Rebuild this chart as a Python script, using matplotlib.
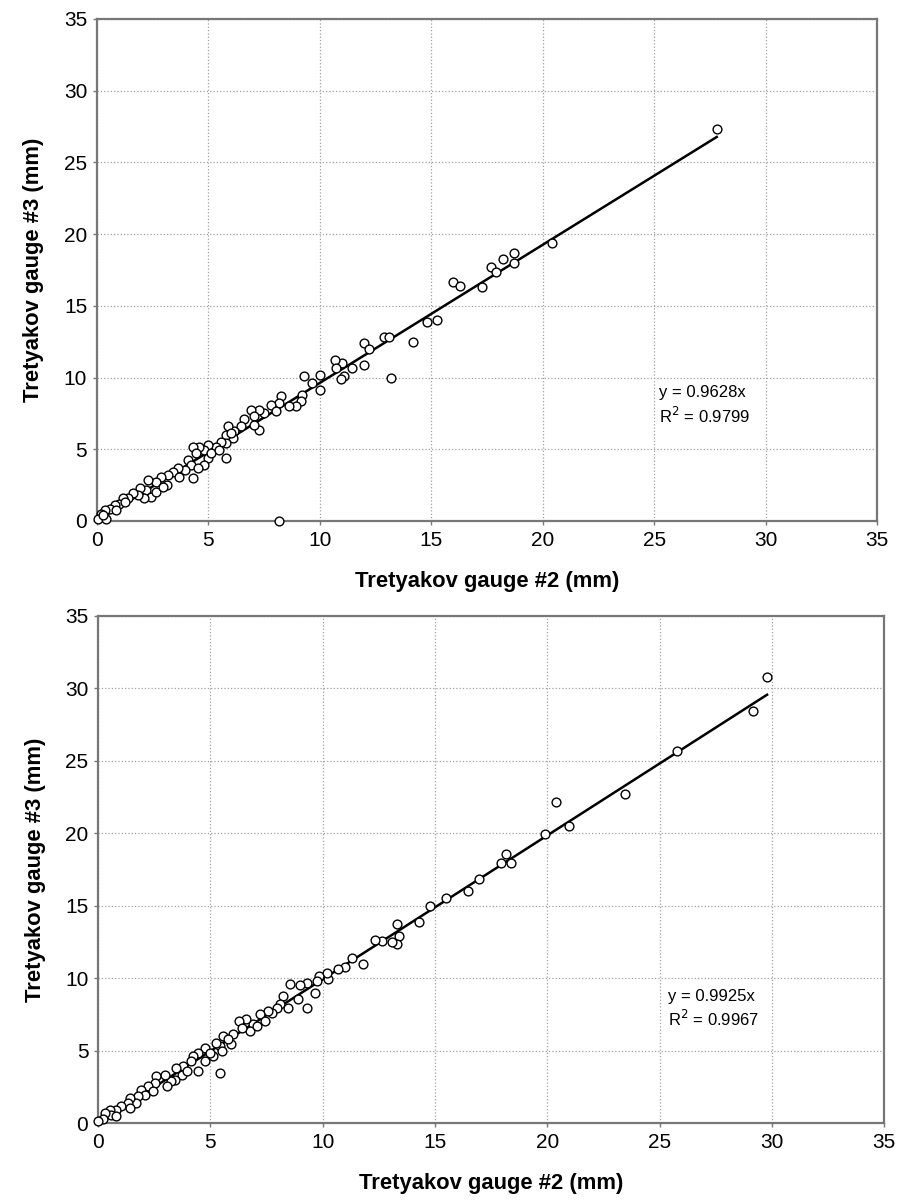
import matplotlib
matplotlib.use("Agg")
import matplotlib.pyplot as plt
import numpy as np

plt.rcParams["font.family"] = ["Liberation Sans", "DejaVu Sans"]

# ---- panel 1: gauge #2 vs gauge #3 (top) ----
top_x = [15.97, 16.28, 14.79, 15.27, 14.18, 12.88, 13.10, 11.97, 12.21, 13.18,
         11.99, 11.46, 11.01, 10.69, 10.72, 11.09, 10.94, 10.00, 10.00, 9.67,
         9.30, 9.19, 9.15, 8.93, 8.63, 8.25, 8.18, 7.81, 8.03, 7.51,
         7.28, 6.91, 7.06, 6.61, 7.28, 7.06, 6.46, 6.16, 5.87, 6.09,
         5.79, 5.79, 5.79, 5.57, 5.34, 4.97, 4.82, 4.97, 4.60, 4.30,
         4.45, 4.07, 4.22, 4.82, 4.52, 4.30, 3.93, 3.63, 3.40, 3.18,
         3.13, 2.88, 2.66, 2.28, 2.21, 2.43, 2.13, 1.91, 1.84, 1.61,
         1.39, 1.16, 1.01, 0.79, 0.57, 0.34, 0.19, 0.04, 0.42, 8.18,
         2.66, 2.96, 3.70, 5.12, 5.49, 6.01, 1.24, 0.87, 0.27,
         17.27, 17.67, 17.90, 18.20, 18.69, 18.69, 20.41, 27.81]
top_y = [16.64, 16.36, 13.90, 14.02, 12.50, 12.85, 12.85, 12.43, 11.96, 10.00,
         10.91, 10.68, 11.03, 11.21, 10.68, 10.09, 9.93, 10.21, 9.11, 9.63,
         10.09, 8.81, 8.34, 8.04, 7.99, 8.74, 8.22, 8.11, 7.64, 7.52,
         7.76, 7.76, 7.29, 7.10, 6.36, 6.71, 6.59, 6.24, 6.59, 5.77,
         6.00, 4.37, 5.42, 5.54, 5.19, 5.30, 4.95, 4.37, 5.19, 5.19,
         4.72, 4.25, 3.90, 3.90, 3.67, 2.97, 3.55, 3.67, 3.43, 3.20,
         2.50, 3.08, 2.73, 2.85, 2.15, 1.68, 1.57, 2.27, 1.80, 1.92,
         1.57, 1.57, 1.21, 1.10, 0.86, 0.79, 0.51, 0.16, 0.16, 0.00,
         2.03, 2.38, 3.08, 4.72, 4.95, 6.12, 1.33, 0.75, 0.40,
         16.34, 17.70, 17.34, 18.24, 18.65, 18.02, 19.38, 27.36]
top_slope = 0.9628
top_r2 = 0.9799

# ---- panel 2 (bottom) ----
bot_x = [16.49, 15.50, 14.78, 14.31, 13.30, 13.42, 13.30, 13.08, 12.63, 12.33,
         11.81, 11.29, 11.00, 10.70, 10.25, 10.18, 9.85, 9.66, 9.73, 9.29,
         9.29, 8.99, 8.92, 8.54, 8.25, 8.10, 7.95, 7.73, 7.58, 7.21,
         7.43, 6.91, 6.76, 6.61, 6.29, 6.39, 6.02, 5.94, 5.57, 5.42,
         5.27, 5.13, 5.50, 5.42, 4.75, 4.46, 4.23, 4.16, 4.75, 4.46,
         3.79, 3.49, 3.72, 3.42, 3.27, 2.97, 2.60, 2.53, 2.23, 2.45,
         1.93, 2.08, 1.78, 1.71, 1.41, 1.34, 1.04, 1.41, 0.82, 0.52,
         0.59, 0.30, 0.22, 0.00, 0.82, 3.05, 3.94, 4.98, 5.79, 7.06, 8.47,
         16.98, 17.95, 18.17, 18.37, 19.88, 20.37, 20.97, 23.48, 25.78, 29.17, 29.79]
bot_y = [16.05, 15.54, 15.01, 13.86, 13.74, 12.89, 12.36, 12.52, 12.59, 12.63,
         10.97, 11.39, 10.79, 10.62, 9.93, 10.39, 10.16, 9.01, 9.82, 9.70,
         7.97, 9.52, 8.55, 9.58, 8.78, 8.20, 7.97, 7.62, 7.74, 7.51,
         7.04, 6.81, 6.35, 7.16, 7.04, 6.58, 6.12, 5.43, 6.00, 5.31,
         5.54, 4.62, 4.97, 3.46, 5.20, 4.85, 4.62, 4.27, 4.27, 3.58,
         3.93, 3.81, 3.35, 3.00, 2.89, 3.35, 3.23, 2.77, 2.54, 2.19,
         2.31, 1.96, 1.85, 1.39, 1.73, 1.39, 1.15, 1.04, 0.92, 0.92,
         0.58, 0.69, 0.28, 0.12, 0.46, 2.54, 3.58, 4.85, 5.77, 6.70, 7.97,
         16.84, 17.95, 18.56, 17.95, 19.97, 22.15, 20.53, 22.74, 25.66, 28.46, 30.77]
bot_slope = 0.9925
bot_r2 = 0.9967

ticks = [0, 5, 10, 15, 20, 25, 30, 35]
xlab = "Tretyakov gauge #2 (mm)"
ylab = "Tretyakov gauge #3 (mm)"


def panel(ax, xs, ys, slope, r2, tx, ty):
    ax.set_xlim(0, 35); ax.set_ylim(0, 35)
    ax.set_xticks(ticks); ax.set_yticks(ticks)
    ax.grid(True, color="#a0a0a0", linestyle=":", linewidth=0.9)
    ax.set_axisbelow(True)
    for s in ax.spines.values():
        s.set_color("#777777"); s.set_linewidth(1.6)
    ax.tick_params(length=3, width=1, color="#777777", labelsize=15, pad=4)
    xs = np.array(xs)
    xl = np.array([0, xs.max()])
    ax.plot(xl, slope * xl, color="black", lw=1.8, zorder=3)
    ax.scatter(xs, ys, s=40, facecolors="white", edgecolors="black",
               linewidths=1.0, zorder=4, clip_on=False)
    ax.text(tx, ty, "y = %.4fx\nR$^2$ = %.4f" % (slope, r2), fontsize=12,
            ha="left", va="center", linespacing=1.3)
    ax.set_xlabel(xlab, fontsize=15.8, fontweight="bold", labelpad=15)
    ax.set_ylabel(ylab, fontsize=15.8, fontweight="bold", labelpad=14)


fig = plt.figure(figsize=(8.97, 12.01), dpi=100)
ax1 = fig.add_axes([0.1081, 0.5662, 0.8696, 0.418])
ax2 = fig.add_axes([0.1093, 0.0649, 0.8763, 0.4222])
panel(ax1, top_x, top_y, top_slope, top_r2, 25.2, 8.05)
panel(ax2, bot_x, bot_y, bot_slope, bot_r2, 25.4, 7.85)
fig.savefig("out.png", dpi=100, facecolor="white")
